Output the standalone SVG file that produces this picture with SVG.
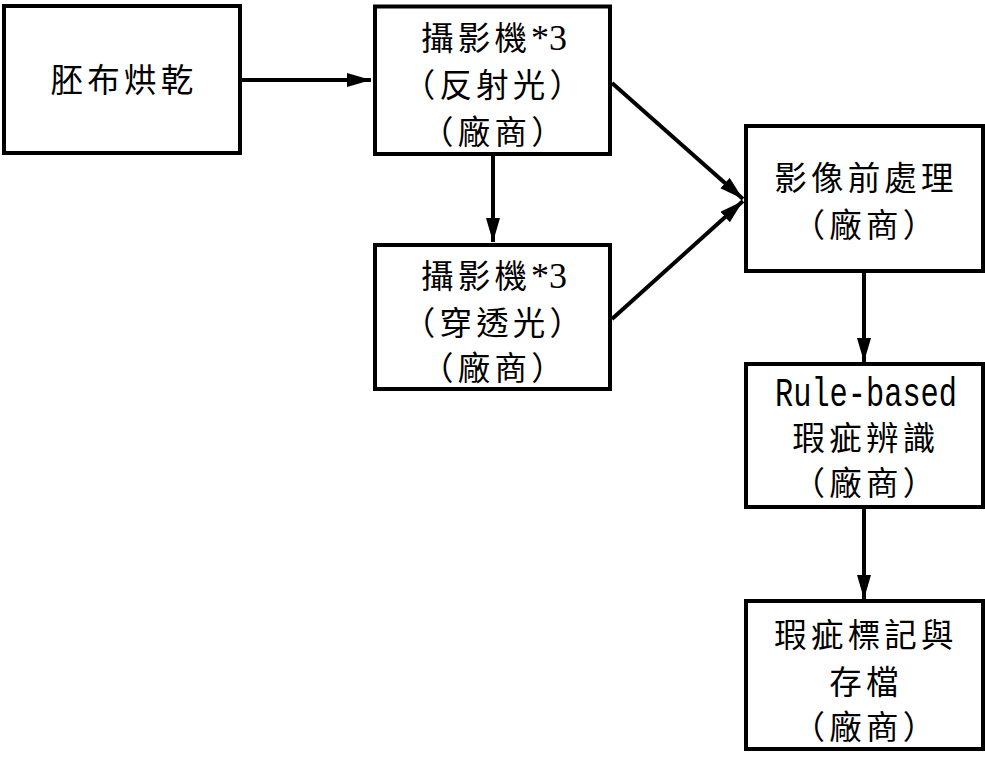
<svg xmlns="http://www.w3.org/2000/svg" width="985" height="767" viewBox="0 0 985 767">
<style>
.box{fill:#fff;stroke:#000;stroke-width:4}
.t{font-family:"Noto Sans CJK TC","Noto Sans CJK SC",sans-serif;font-size:32.5px;letter-spacing:4.2px;fill:#000;text-anchor:middle}
.s{font-family:"Noto Sans CJK TC","Noto Sans CJK SC",sans-serif;font-size:32.5px;letter-spacing:4.2px;fill:#000;text-anchor:start}
.l{font-family:"Liberation Serif",serif;font-size:36px;fill:#000;text-anchor:start}
.m{font-family:"Liberation Mono",monospace;font-size:40px;fill:#000;text-anchor:middle}
.c{fill:none;stroke:#000;stroke-width:4}
</style>
<defs>
<marker id="ah" markerUnits="userSpaceOnUse" markerWidth="26" markerHeight="16" refX="24" refY="7" orient="auto">
<path d="M0,0 L24,7 L0,14 Z" fill="#000"/>
</marker>
</defs>
<g id="connectors">
<line class="c" x1="242" y1="80" x2="371" y2="80" marker-end="url(#ah)"/>
<line class="c" x1="493" y1="156" x2="493" y2="242" marker-end="url(#ah)"/>
<line class="c" x1="612" y1="83" x2="743" y2="199" marker-end="url(#ah)"/>
<line class="c" x1="612" y1="319" x2="743" y2="201" marker-end="url(#ah)"/>
<line class="c" x1="864" y1="273" x2="864" y2="362" marker-end="url(#ah)"/>
<line class="c" x1="864" y1="509" x2="864" y2="599" marker-end="url(#ah)"/>
</g>
<g id="n1">
<rect class="box" x="4" y="6" width="236" height="147"/>
<text class="t" x="124" y="92">胚布烘乾</text>
</g>
<g id="n2">
<rect class="box" x="375" y="6.5" width="235" height="147.5"/>
<text class="s" x="421" y="50">攝影機</text>
<text class="l" x="531" y="50">*3</text>
<text class="t" x="494.5" y="97">（反射光）</text>
<text class="t" x="494.5" y="143.5">（廠商）</text>
</g>
<g id="n3">
<rect class="box" x="375" y="245" width="235" height="144"/>
<text class="s" x="421" y="287.5">攝影機</text>
<text class="l" x="531" y="287.5">*3</text>
<text class="t" x="494.5" y="334.5">（穿透光）</text>
<text class="t" x="494.5" y="379.5">（廠商）</text>
</g>
<g id="n4">
<rect class="box" x="746" y="126" width="237" height="145"/>
<text class="t" x="866" y="190">影像前處理</text>
<text class="t" x="866" y="236.5">（廠商）</text>
</g>
<g id="n5">
<rect class="box" x="746" y="364" width="237" height="143"/>
<text class="m" transform="translate(866,406) scale(0.758,1)" x="0" y="0">Rule-based</text>
<text class="t" x="866" y="449.5">瑕疵辨識</text>
<text class="t" x="866" y="495">（廠商）</text>
</g>
<g id="n6">
<rect class="box" x="746" y="601" width="237" height="148"/>
<text class="t" x="866" y="646.5">瑕疵標記與</text>
<text class="t" x="866" y="693.5">存檔</text>
<text class="t" x="866" y="738.5">（廠商）</text>
</g>
</svg>
